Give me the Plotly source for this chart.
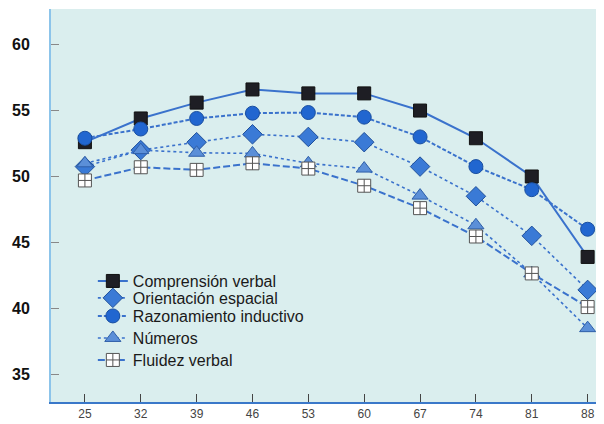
import plotly.graph_objects as go

edades = [25, 32, 39, 46, 53, 60, 67, 74, 81, 88]
comprension_verbal = [52.6, 54.4, 55.6, 56.6, 56.3, 56.3, 55.0, 52.9, 50.0, 43.9]
orientacion_espacial = [50.75, 52.0, 52.6, 53.2, 53.0, 52.6, 50.75, 48.5, 45.5, 41.4]
razonamiento_inductivo = [52.9, 53.6, 54.4, 54.8, 54.85, 54.5, 53.0, 50.75, 49.0, 46.0]
numeros = [51.0, 52.0, 51.8, 51.75, 51.0, 50.6, 48.55, 46.3, 42.65, 38.5]
fluidez_verbal = [49.7, 50.7, 50.5, 51.0, 50.6, 49.3, 47.6, 45.45, 42.65, 40.1]
y_ticks = [35, 40, 45, 50, 55, 60]

series = [
    ("Comprensión verbal", comprension_verbal, "solid", "square", "#1e1e24", "#111111", 13, 2),
    ("Orientación espacial", orientacion_espacial, "dot", "diamond", "#3a7ad6", "#1f4f9a", 15, 1.6),
    ("Razonamiento inductivo", razonamiento_inductivo, "4px,2px", "circle", "#2166d0", "#1a4fa0", 14, 2),
    ("Números", numeros, "dot", "triangle-up", "#5b8fd8", "#2f5fa8", 14, 1.6),
    ("Fluidez verbal", fluidez_verbal, "7px,3px", "square-cross", "#ffffff", "#555555", 13, 2),
]
legend_ids = ["legend", "legend2", "legend3", "legend4", "legend5"]
legend_tops = [0.351, 0.308, 0.262, 0.206, 0.150]

fig = go.Figure()
for (name, vals, dash, sym, mcol, lcol, size, lw), lid in zip(series, legend_ids):
    fig.add_trace(go.Scatter(
        x=edades, y=vals, name=name, mode="lines+markers", legend=lid,
        line=dict(color="#3a72cc", width=lw, dash=dash),
        marker=dict(symbol=sym, size=size, color=mcol, line=dict(color=lcol, width=1)),
    ))

legend_style = dict(xanchor="left", yanchor="top", bgcolor="rgba(0,0,0,0)",
                    font=dict(size=16, color="#1a1a1a"), itemwidth=30)
layout_legends = {lid: dict(x=0.0765, y=top, **legend_style)
                  for lid, top in zip(legend_ids, legend_tops)}

fig.update_layout(
    width=590, height=416,
    margin=dict(l=43, r=0, t=1, b=22),
    paper_bgcolor="white",
    plot_bgcolor="#daeeee",
    font=dict(family="Liberation Sans, Arial, sans-serif", color="#222222"),
    showlegend=True,
    **layout_legends,
)
fig.update_xaxes(
    range=[20.75, 89.3], tickvals=edades, ticktext=[str(e) for e in edades],
    ticks="inside", ticklen=8, tickcolor="#444444", tickwidth=1,
    showline=True, linecolor="#3a78c9", linewidth=2,
    showgrid=False, zeroline=False,
    tickfont=dict(size=12, color="#444444"),
)
fig.update_yaxes(
    range=[32.9, 62.7], tickvals=y_ticks,
    ticks="inside", ticklen=8, tickcolor="#888888", tickwidth=1,
    showline=True, linecolor="#8cc4ea", linewidth=2,
    showgrid=False, zeroline=False,
    tickfont=dict(size=16, color="#111111", family="Liberation Sans, Arial, sans-serif", weight="bold"),
    ticklabelstandoff=16,
)
fig.write_html("out.html")
